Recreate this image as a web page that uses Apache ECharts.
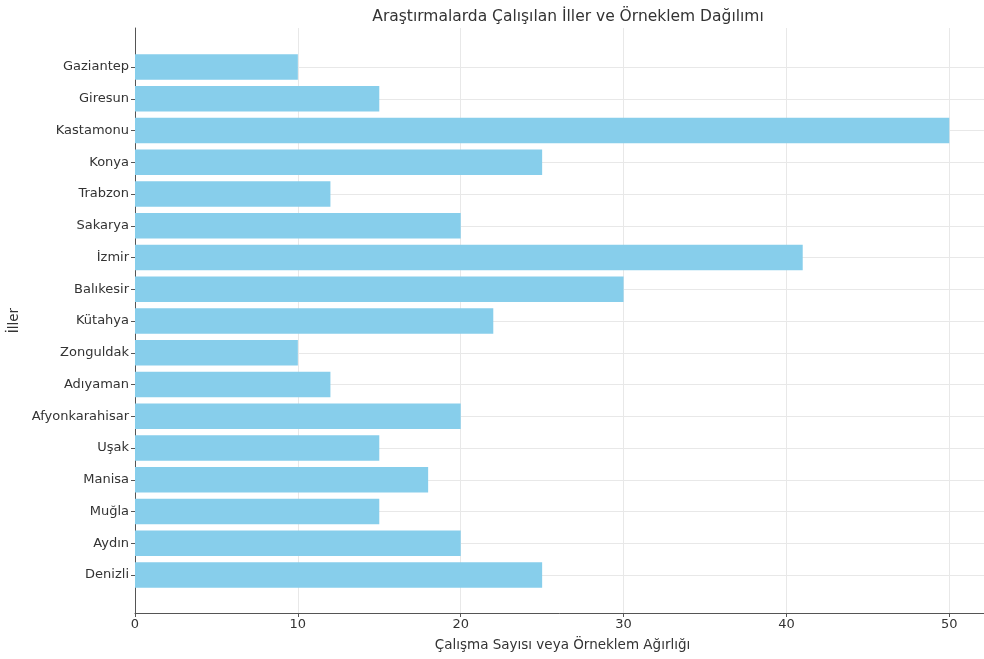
<!DOCTYPE html>
<html><head><meta charset="utf-8">
<script src="https://cdn.jsdelivr.net/npm/echarts@6/dist/echarts.min.js"></script>
<style>html,body{margin:0;padding:0;background:#fff}#c{width:984px;height:659px}</style>
</head><body><div id="c"></div>
<script>
var cities = ['Gaziantep','Giresun','Kastamonu','Konya','Trabzon','Sakarya','İzmir','Balıkesir','Kütahya','Zonguldak','Adıyaman','Afyonkarahisar','Uşak','Manisa','Muğla','Aydın','Denizli'];
var values = [10,15,50,25,12,20,41,30,22,10,12,20,15,18,15,20,25];
var xTicks = [0,10,20,30,40,50];

var font = 'DejaVu Sans';
var chart = echarts.init(document.getElementById('c'), null, {renderer:'canvas'});
var L = 135, W = 855;
chart.setOption({
  animation:false,
  textStyle:{fontFamily:font},
  title:{text:'Araştırmalarda Çalışılan İller ve Örneklem Dağılımı', left:563, top:4, textAlign:'center',
    textStyle:{fontFamily:font,fontSize:15.5,fontWeight:'normal',color:'#333'}},
  grid:[
    {left:L, width:W, top:28, height:585, containLabel:false, outerBoundsMode:'none'},
    {left:L, width:W, top:67, height:508, containLabel:false, outerBoundsMode:'none'}
  ],
  xAxis:[
    {gridIndex:0, type:'value', min:0, max:52.5, interval:10,
     name:'Çalışma Sayısı veya Örneklem Ağırlığı', nameLocation:'middle', nameGap:25,
     nameTextStyle:{fontFamily:font,fontSize:13.5,color:'#333'},
     axisLine:{show:true,lineStyle:{color:'#555',width:1}},
     axisTick:{show:true,length:4,lineStyle:{color:'#555'}},
     axisLabel:{fontFamily:font,fontSize:13,color:'#333',margin:5,
       formatter:function(v){return xTicks.indexOf(v)>=0?String(v):'';}},
     splitLine:{show:true,lineStyle:{color:'#e8e8e8',width:1}}},
    {gridIndex:1, type:'value', min:0, max:52.5, show:false}
  ],
  yAxis:[
    {gridIndex:0, type:'value', min:0, max:1, name:'İller', nameLocation:'middle', nameGap:114,
     nameTextStyle:{fontFamily:font,fontSize:13.5,color:'#333'},
     axisLine:{show:true,lineStyle:{color:'#555',width:1}},
     axisTick:{show:false}, axisLabel:{show:false}, splitLine:{show:false}},
    {gridIndex:1, type:'category', data:cities, inverse:true, boundaryGap:false,
     axisLine:{show:false},
     axisTick:{show:true,length:4,lineStyle:{color:'#555'}},
     axisLabel:{fontFamily:font,fontSize:13,color:'#333',margin:6},
     splitLine:{show:true,lineStyle:{color:'#e8e8e8',width:1}}}
  ],
  series:[{
    type:'bar', xAxisIndex:1, yAxisIndex:1, data:values, barWidth:'80%', clip:false,
    itemStyle:{color:'#87CEEB'}
  }]
});
</script></body></html>
